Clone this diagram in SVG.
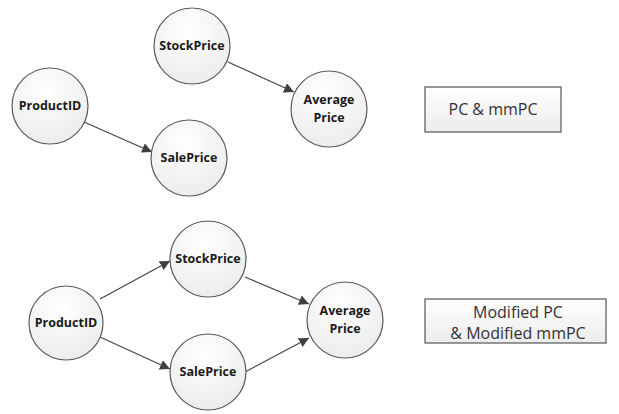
<svg xmlns="http://www.w3.org/2000/svg" width="619" height="414" viewBox="0 0 619 414">
  <defs>
    <radialGradient id="nodeFill" cx="0.45" cy="0.3" r="0.75">
      <stop offset="0" stop-color="#ffffff"/>
      <stop offset="1" stop-color="#ebebeb"/>
    </radialGradient>
    <linearGradient id="boxFill" x1="0" y1="0" x2="0" y2="1">
      <stop offset="0" stop-color="#ffffff"/>
      <stop offset="1" stop-color="#ececec"/>
    </linearGradient>
    <marker id="arrow" viewBox="0 0 10 10" refX="10" refY="5" markerWidth="10" markerHeight="10" markerUnits="userSpaceOnUse" orient="auto">
      <path d="M0,0 L10,5 L0,10 z" fill="#404040"/>
    </marker>
  </defs>
  <style>
    .node circle { fill: url(#nodeFill); stroke: #5a5a5a; stroke-width: 1.2; }
    .node text { font-family: "Open Sans", "Liberation Sans", sans-serif; font-weight: bold; font-size: 12.5px; fill: #1a1a1a; text-anchor: middle; }
    .box rect { fill: url(#boxFill); stroke: #555555; stroke-width: 1.2; }
    .box text { font-family: "Open Sans", "Liberation Sans", sans-serif; font-size: 16px; fill: #333333; text-anchor: middle; }
    .edges line { stroke: #404040; stroke-width: 1.1; marker-end: url(#arrow); }
  </style>
  <rect width="619" height="414" fill="#ffffff"/>

  <!-- upper graph -->
  <g class="edges" id="edges-top">
    <line x1="228" y1="62" x2="294" y2="92"/>
    <line x1="84" y1="122" x2="152" y2="152"/>
  </g>
  <g class="node" id="top-stockprice"><circle cx="192" cy="46" r="38"/><text x="192" y="50">StockPrice</text></g>
  <g class="node" id="top-averageprice"><circle cx="329" cy="109" r="38"/><text x="329" y="104">Average</text><text x="329" y="122">Price</text></g>
  <g class="node" id="top-productid"><circle cx="50" cy="106" r="38"/><text x="50" y="110">ProductID</text></g>
  <g class="node" id="top-saleprice"><circle cx="189" cy="158" r="38"/><text x="189" y="162">SalePrice</text></g>
  <g class="box" id="label-top"><rect x="425" y="87" width="136" height="45"/><text x="493" y="115">PC &amp; mmPC</text></g>

  <!-- lower graph -->
  <g class="edges" id="edges-bottom">
    <line x1="100" y1="299" x2="170" y2="261"/>
    <line x1="100" y1="337" x2="170" y2="369"/>
    <line x1="245" y1="277" x2="309" y2="304"/>
    <line x1="245" y1="372" x2="309" y2="338"/>
  </g>
  <g class="node" id="bottom-stockprice"><circle cx="208" cy="259" r="38"/><text x="208" y="263">StockPrice</text></g>
  <g class="node" id="bottom-productid"><circle cx="66" cy="323" r="37"/><text x="66" y="327">ProductID</text></g>
  <g class="node" id="bottom-saleprice"><circle cx="208" cy="372" r="38"/><text x="208" y="376">SalePrice</text></g>
  <g class="node" id="bottom-averageprice"><circle cx="345" cy="320" r="38"/><text x="345" y="315">Average</text><text x="345" y="333">Price</text></g>
  <g class="box" id="label-bottom"><rect x="425" y="299" width="181" height="44"/><text x="518" y="318">Modified PC</text><text x="518" y="339">&amp; Modified mmPC</text></g>
</svg>
